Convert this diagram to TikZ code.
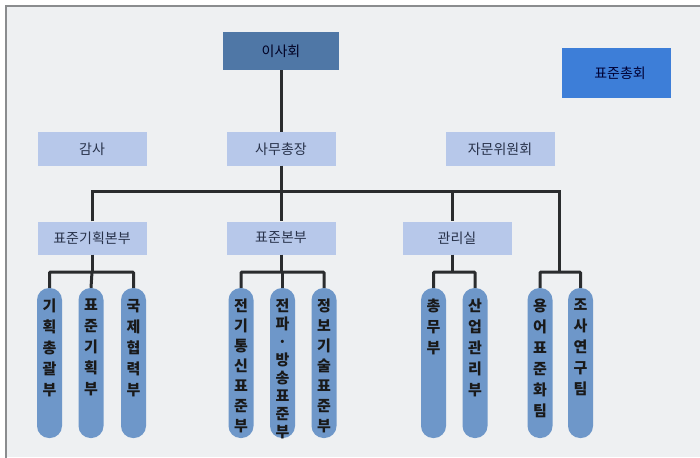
\documentclass[tikz,border=0pt]{standalone}
\usepackage{fontspec}
\newfontfamily\kr{Noto Sans CJK KR}
\definecolor{bgc}{HTML}{EEF0F2}
\definecolor{framec}{HTML}{8A8C8E}
\definecolor{darkb}{HTML}{4F77A6}
\definecolor{brightb}{HTML}{3D7ED8}
\definecolor{lightb}{HTML}{B7C8EA}
\definecolor{pillc}{HTML}{6E97C9}
\definecolor{linec}{HTML}{2A2C2E}
\definecolor{txt}{HTML}{28324A}
\tikzset{
  boxbase/.style={inner sep=0pt, font=\kr\fontsize{14}{16}\selectfont, text=txt},
  lbox/.style={boxbase, fill=lightb, minimum width=109pt, minimum height=33pt},
  pill/.style={fill=pillc, rounded corners=12pt, minimum width=25pt, minimum height=150pt, inner sep=0pt},
  ptext/.style={inner sep=0pt, align=center, text=black!90, font=\kr\bfseries\fontsize{15}{21}\selectfont},
  conn/.style={line width=3pt, draw=linec}
}
\begin{document}
\begin{tikzpicture}[x=1pt,y=-1pt]
\useasboundingbox (0,0) rectangle (700,457);
\fill[white] (0,0) rectangle (700,457);
\fill[bgc] (6,6) rectangle (700,457);
\draw[framec, line width=2pt] (6,460) -- (6,6) -- (704,6);

% top level
\node[boxbase, fill=darkb, text=black!70!blue!45!black, minimum width=116pt, minimum height=38pt] (isa) at (281,51) {이사회};
\node[boxbase, fill=brightb, text=black!80!blue, minimum width=109pt, minimum height=50pt] (chonghoe) at (616,73) {\hspace*{8pt}표준총회};

\node[lbox] (gamsa) at (92,149) {감사};
\node[lbox] (samu) at (281,149) {사무총장};
\node[lbox] (jamun) at (500,149) {자문위원회};

\node[lbox] (gihoek) at (92,238) {표준기획본부};
\node[lbox] (pyojun) at (281,238) {표준본부};
\node[lbox] (gwanri) at (457,238) {관리실};

% pills
\node[pill, label={[ptext,anchor=north,yshift=-11pt]north:{기\\획\\총\\괄\\부}}] (p1) at (49.5,363) {};
\node[pill, label={[ptext,anchor=north,yshift=-11pt]north:{표\\준\\기\\획\\부}}] (p2) at (91,363) {};
\node[pill, label={[ptext,anchor=north,yshift=-11pt]north:{국\\제\\협\\력\\부}}] (p3) at (133.5,363) {};

\node[pill, label={[ptext,font=\kr\bfseries\fontsize{15}{20}\selectfont,anchor=north,yshift=-11pt]north:{전\\기\\통\\신\\표\\준\\부}}] (p4) at (241,363) {};
\node[pill, label={[ptext,font=\kr\bfseries\fontsize{15}{18}\selectfont,anchor=north,yshift=-11pt]north:{전\\파\\·\\방\\송\\표\\준\\부}}] (p5) at (282.5,363) {};
\node[pill, label={[ptext,font=\kr\bfseries\fontsize{15}{20}\selectfont,anchor=north,yshift=-11pt]north:{정\\보\\기\\술\\표\\준\\부}}] (p6) at (324,363) {};

\node[pill, label={[ptext,anchor=north,yshift=-11pt]north:{총\\무\\부}}] (p7) at (433.5,363) {};
\node[pill, label={[ptext,anchor=north,yshift=-11pt]north:{산\\업\\관\\리\\부}}] (p8) at (475,363) {};

\node[pill, label={[ptext,anchor=north,yshift=-11pt]north:{용\\어\\표\\준\\화\\팀}}] (p9) at (540,363) {};
\node[pill, label={[ptext,anchor=north,yshift=-11pt]north:{조\\사\\연\\구\\팀}}] (p10) at (580.5,363) {};

% junction coordinates
\coordinate (m1) at (92,191);
\coordinate (m2) at (281,191);
\coordinate (m3) at (452,191);
\coordinate (m4) at (559,191);
\coordinate (b1) at (92,272);
\coordinate (b2) at (281,272);
\coordinate (b3) at (452,272);
\coordinate (b4) at (559,272);

% connectors
\draw[conn] (isa.south) -- (samu.north);
\draw[conn] (samu.south) -- (m2);
\draw[conn] (m1 |- gihoek.north) -- (m1) -- (m4) -- (b4);
\draw[conn] (m2) -- (m2 |- pyojun.north);
\draw[conn] (m3) -- (m3 |- gwanri.north);

\draw[conn] (b1 |- gihoek.south) -- (b1);
\draw[conn, rounded corners=1pt] (p1.north) |- (b1) -| (p3.north);
\draw[conn] (b1) -- (p2.north);

\draw[conn] (b2 |- pyojun.south) -- (b2);
\draw[conn, rounded corners=1pt] (p4.north) |- (b2) -| (p6.north);
\draw[conn] (p5.north |- b2) -- (p5.north);

\draw[conn] (b3 |- gwanri.south) -- (b3);
\draw[conn, rounded corners=1pt] (p7.north) |- (b3) -| (p8.north);

\draw[conn, rounded corners=1pt] (p9.north) |- (b4) -| (p10.north);
\end{tikzpicture}
\end{document}
